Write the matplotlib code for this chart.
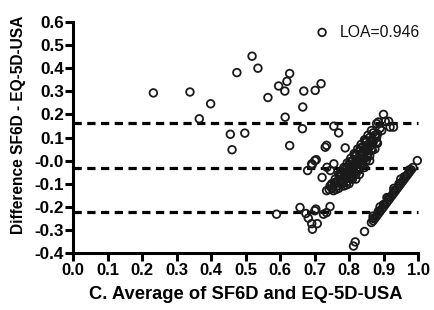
import matplotlib
matplotlib.use("Agg")
import matplotlib.pyplot as plt

plt.rcParams['font.family'] = ['Liberation Sans', 'DejaVu Sans']

# ---- data: average (x) and difference (y) of SF6D and EQ-5D-USA ----
# scattered points
scatter_x = [0.233, 0.339, 0.399, 0.366,
             0.722, 0.519, 0.475, 0.536, 0.628, 0.620, 0.596, 0.614, 0.669, 0.702,
             0.719, 0.565, 0.666, 0.615, 0.665, 0.456, 0.498, 0.461, 0.628,
             0.756, 0.770, 0.789, 0.731, 0.735,
             0.590, 0.658, 0.675, 0.682, 0.701, 0.704, 0.692, 0.708, 0.694,
             0.726, 0.735, 0.745,
             0.680, 0.693, 0.705, 0.746, 0.756, 0.722, 0.736, 0.701, 0.692,
             0.885, 0.919, 0.929]
scatter_y = [0.293, 0.297, 0.246, 0.181,
             0.555, 0.452, 0.381, 0.400, 0.377, 0.343, 0.323, 0.301, 0.301, 0.304,
             0.333, 0.273, 0.232, 0.188, 0.138, 0.114, 0.119, 0.047, 0.065,
             0.149, 0.120, 0.055, 0.058, 0.066,
             -0.232, -0.203, -0.229, -0.249, -0.217, -0.210, -0.273, -0.273, -0.297,
             -0.232, -0.225, -0.199,
             -0.043, -0.019, 0.004, -0.043, -0.014, -0.073, -0.029, 0.000, -0.014,
             0.167, 0.145, 0.145]

# dense band (upper-left diagonal)
band_a_x = [0.735, 0.745, 0.750, 0.760, 0.770, 0.775, 0.785, 0.795, 0.805, 0.815, 0.825,
            0.835, 0.845, 0.855, 0.865, 0.880, 0.900,
            0.750, 0.760, 0.765, 0.775, 0.785, 0.795, 0.800, 0.810, 0.820, 0.830,
            0.840, 0.850, 0.860, 0.870,
            0.755, 0.765, 0.775, 0.785, 0.795, 0.800, 0.810, 0.820, 0.825, 0.835,
            0.845, 0.855, 0.865, 0.875, 0.890, 0.905,
            0.770, 0.780, 0.790, 0.800, 0.810, 0.820, 0.830, 0.840, 0.850, 0.860,
            0.870, 0.880, 0.895, 0.915,
            0.785, 0.795, 0.805, 0.815, 0.825, 0.835, 0.845, 0.855, 0.865, 0.880,
            0.800, 0.810, 0.820, 0.830, 0.840, 0.850, 0.860, 0.875,
            0.820, 0.830, 0.845, 0.860,
            0.7425, 0.7575, 0.7725, 0.7875, 0.8025, 0.8175, 0.8325, 0.8475,
            0.7625, 0.7775, 0.7925, 0.8075, 0.8225, 0.8375, 0.8525, 0.8675, 0.8825,
            0.7925, 0.8075, 0.8225, 0.8375, 0.8525, 0.8675, 0.8825]
band_a_y = [-0.13, -0.11, -0.10, -0.08, -0.06, -0.05, -0.03, -0.01, 0.01, 0.03, 0.05,
            0.07, 0.09, 0.11, 0.13, 0.16, 0.20,
            -0.12, -0.10, -0.09, -0.07, -0.05, -0.03, -0.02, 0.00, 0.02, 0.04,
            0.06, 0.08, 0.10, 0.12,
            -0.13, -0.11, -0.09, -0.07, -0.05, -0.04, -0.02, 0.00, 0.01, 0.03,
            0.05, 0.07, 0.09, 0.11, 0.14, 0.17,
            -0.12, -0.10, -0.08, -0.06, -0.04, -0.02, 0.00, 0.02, 0.04, 0.06,
            0.08, 0.10, 0.13, 0.17,
            -0.11, -0.09, -0.07, -0.05, -0.03, -0.01, 0.01, 0.03, 0.05, 0.08,
            -0.10, -0.08, -0.06, -0.04, -0.02, 0.00, 0.02, 0.05,
            -0.08, -0.06, -0.03, 0.00,
            -0.125, -0.095, -0.065, -0.035, -0.005, 0.025, 0.055, 0.085,
            -0.125, -0.095, -0.065, -0.035, -0.005, 0.025, 0.055, 0.085, 0.115,
            -0.105, -0.075, -0.045, -0.015, 0.015, 0.045, 0.075]

# narrow band (lower-right diagonal)
band_b_x = [0.813, 0.818, 0.845, 0.865, 0.870, 0.875, 0.880, 0.885, 0.890, 0.895,
            0.900, 0.905, 0.910, 0.915, 0.920, 0.925, 0.930, 0.935, 0.940, 0.945,
            0.950, 0.955, 0.960, 0.965, 0.970, 0.975, 0.980, 0.985, 0.998,
            0.870, 0.890, 0.910, 0.930, 0.950,
            0.870, 0.885, 0.900, 0.915, 0.930, 0.945, 0.960, 0.975]
band_b_y = [-0.370, -0.352, -0.307, -0.268, -0.26, -0.25, -0.24, -0.23, -0.22, -0.21,
            -0.20, -0.19, -0.18, -0.17, -0.16, -0.15, -0.14, -0.13, -0.12, -0.11,
            -0.10, -0.09, -0.08, -0.07, -0.06, -0.05, -0.04, -0.03, 0.00,
            -0.24, -0.20, -0.16, -0.12, -0.08,
            -0.25, -0.22, -0.19, -0.16, -0.13, -0.10, -0.07, -0.04]

limit_lines = [0.162, -0.030, -0.222]   # upper LOA, mean, lower LOA
loa_text = "LOA=0.946"

x_ticks = [0.0, 0.1, 0.2, 0.3, 0.4, 0.5, 0.6, 0.7, 0.8, 0.9, 1.0]
x_ticklabels = ['0.0', '0.1', '0.2', '0.3', '0.4', '0.5', '0.6', '0.7', '0.8', '0.9', '1.0']
y_ticks = [-0.4, -0.3, -0.2, -0.1, 0.0, 0.1, 0.2, 0.3, 0.4, 0.5, 0.6]
y_ticklabels = ['-0.4', '-0.3', '-0.2', '-0.1', '-0.0', '0.1', '0.2', '0.3', '0.4', '0.5', '0.6']

x_label = "C. Average of SF6D and EQ-5D-USA"
y_label = "Difference SF6D - EQ-5D-USA"

# ---- figure ----
fig = plt.figure(figsize=(4.34, 3.10), dpi=100)
ax = fig.add_axes([73/434, 57/310, 345/434, 231/310])

for xs, ys in [(scatter_x, scatter_y), (band_a_x, band_a_y), (band_b_x, band_b_y)]:
    ax.scatter(xs, ys, s=30, facecolors='none', edgecolors='#1a1a1a',
               linewidths=1.3, clip_on=False, zorder=3)

for yv in limit_lines:
    ax.plot([0, 1.0], [yv, yv], color='black', lw=2.3, ls=(0, (2.6, 1.7)),
            dash_capstyle='butt', zorder=2, clip_on=False)

ax.text(0.772, 0.553, loa_text, fontsize=11.3, ha='left', va='center', color='#111111')

ax.set_xlim(0, 1.0)
ax.set_ylim(-0.4, 0.6)
ax.set_xticks(x_ticks)
ax.set_xticklabels(x_ticklabels)
ax.set_yticks(y_ticks)
ax.set_yticklabels(y_ticklabels)

for side in ['top', 'right']:
    ax.spines[side].set_visible(False)
for side in ['left', 'bottom']:
    ax.spines[side].set_linewidth(2.2)
ax.tick_params(axis='both', direction='out', length=5.5, width=2.2, pad=1.5)
ax.tick_params(axis='x', labelsize=12)
ax.tick_params(axis='y', labelsize=12.3, pad=1)
for lab in ax.get_xticklabels() + ax.get_yticklabels():
    lab.set_fontweight('bold')

ax.set_xlabel(x_label, fontsize=13.2, fontweight='bold', labelpad=6)
ax.set_ylabel(y_label, fontsize=11.2, fontweight='bold')
ax.yaxis.set_label_coords(-0.137, 0.555)

fig.savefig("out.png", dpi=100)
